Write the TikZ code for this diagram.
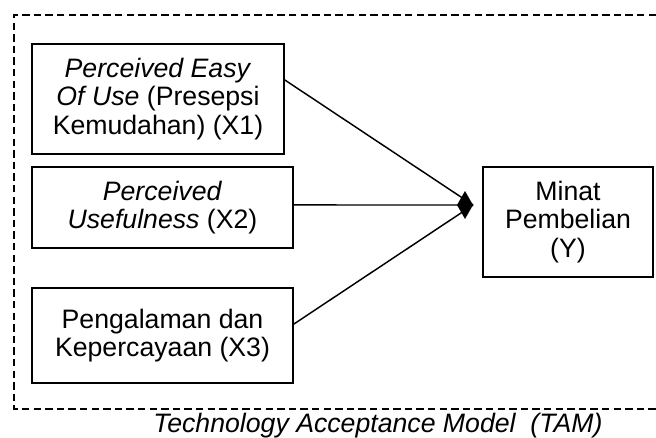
\documentclass[tikz,border=0pt]{standalone}
\usepackage{fontspec}
\setmainfont{Liberation Sans}
\begin{document}
\begin{tikzpicture}[x=0.75pt,y=-0.75pt,
  box/.style={draw,line width=1.3pt,align=center,inner sep=0pt,
    font=\fontsize{20pt}{21.5pt}\selectfont},
  conn/.style={line width=1.1pt},
  frame/.style={line width=0.9pt,dash pattern=on 5.5pt off 3.2pt}]
\useasboundingbox (0,0) rectangle (656,437);
\draw[frame] (656,15) -- (14,15) -- (14,409) -- (656,409);
\node[box,minimum width=189pt,minimum height=82.5pt] (b1) at (158,99)
  {\textit{Perceived Easy}\\\textit{Of Use} (Presepsi\\Kemudahan) (X1)};
\node[box,minimum width=195.75pt,minimum height=60.75pt] (b2) at (162.5,207.5)
  {\textit{Perceived}\\\textit{Usefulness} (X2)};
\node[box,minimum width=195.75pt,minimum height=71.25pt] (b3) at (162.5,335.5)
  {Pengalaman dan\\Kepercayaan (X3)};
\node[box,minimum width=127.5pt,minimum height=82.5pt] (y) at (568,222)
  {Minat\\Pembelian\\(Y)};
\coordinate (t) at (473,205);
\draw[conn] ([yshift=14.25pt]b1.east) -- (t);
\draw[conn] ([yshift=1.9pt]b2.east) -- (t);
\draw[conn] ([yshift=8.6pt]b3.east) -- (t);
\fill (t) -- ++(-8,-14) -- ++(-8,14) -- ++(8,14) -- cycle;
\node[font=\fontsize{20pt}{21.5pt}\selectfont\itshape,anchor=base] (cap) at (378,432)
  {Technology Acceptance Model\ \ (TAM)};
\end{tikzpicture}
\end{document}
